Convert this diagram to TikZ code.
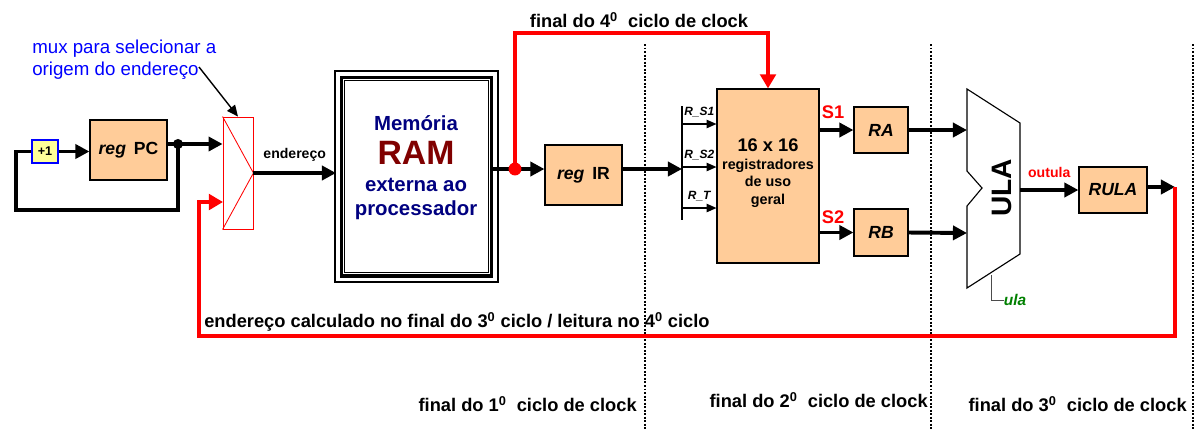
\documentclass[tikz,border=0pt]{standalone}
\usepackage{fontspec}
\setmainfont{Liberation Sans}
\usetikzlibrary{arrows.meta,calc}
\definecolor{regfill}{RGB}{255,204,153}
\definecolor{incfill}{RGB}{255,255,153}
\definecolor{ramblue}{RGB}{0,0,128}
\definecolor{ramred}{RGB}{128,0,0}
\definecolor{ulagreen}{RGB}{0,128,0}

\begin{document}
\begin{tikzpicture}[x=0.025cm, y=-0.025cm,
    regbox/.style={draw, fill=regfill, line width=0.8pt, inner sep=0pt},
    fio/.style={line width=2.8pt, -{Triangle[length=10pt,width=10pt]}},
    fiored/.style={draw=red, line width=2.8pt, -{Triangle[length=10pt,width=11pt]}},
    fino/.style={line width=0.8pt, -{Triangle[length=7pt,width=6pt]}},
    divisa/.style={line width=1.4pt, dash pattern=on 1.4pt off 1.1pt},
    rotulo/.style={font=\fontsize{13}{15}\selectfont\bfseries, inner sep=0pt}]
    % Frame
    \useasboundingbox (0,0) rectangle (1194,430);

    % Clock boundaries
    \foreach \x in {645,931,1193}
        \draw[divisa] (\x,44) -- (\x,430);

    % PC, +1 and mux
    \node[draw=blue, fill=incfill, line width=0.8pt, minimum width=0.65cm, minimum height=0.575cm,
          inner sep=0pt, font=\fontsize{9}{10}\selectfont\bfseries] (inc) at (45,151.5) {+1};
    \node[regbox, minimum width=1.925cm, minimum height=1.5cm,
          font=\fontsize{12.5}{14}\selectfont\bfseries] (pc) at (128.5,150) {\textit{reg}\hspace{0.45em}PC};
    \node[draw=red, line width=0.6pt, minimum width=0.75cm, minimum height=2.8cm, inner sep=0pt] (mux) at (238,173) {};
    \draw[red, line width=0.6pt] (mux.north west) -- (mux.east) -- (mux.south west);

    \coordinate (pcout) at (178,144);
    \draw[fio] (inc.east) -- (inc.east -| pc.west);
    \draw[line width=2.8pt] (pc.east |- pcout) -- (pcout) |- (16,210) |- (inc.west);
    \draw[fio] (pcout) -- (pcout -| mux.west);
    \fill (pcout) circle (3.6pt);

    % Note on the mux
    \node[blue, align=left, anchor=north west, inner sep=0pt, font=\fontsize{13.3}{15.5}\selectfont] (muxnote) at (32,40)
        {mux para selecionar a\\origem do endereço};
    \coordinate (notetail) at (199,67);
    \draw[line width=1pt, -{Triangle[length=8pt,width=7pt]}] (notetail) -- (mux.north);

    % Memory
    \coordinate (ramin) at (336,173);
    \draw[fio] (mux.east) -- node[above=7pt, font=\fontsize{10}{12}\selectfont\bfseries, inner sep=0pt] (endlbl) {endereço} (ramin);
    \node[draw, line width=2.8pt, minimum width=3.75cm, minimum height=4.95cm, inner sep=0pt] (ram) at (416.5,176.5) {};
    \draw[line width=1pt] ($(ram.north west)+(-4.6,-4.6)$) rectangle ($(ram.south east)+(4.6,4.6)$);
    \draw[line width=1pt] ($(ram.north west)+(4.8,4.8)$) rectangle ($(ram.south east)+(-4.8,-4.8)$);
    \node[align=center, inner sep=0pt, font=\fontsize{14.5}{17}\selectfont\bfseries] (ramtxt) at (416,167.5) {%
        \textcolor{ramblue}{Memória}\\[7pt]
        {\fontsize{24}{26}\selectfont\textcolor{ramred}{RAM}}\\[2.8pt]
        \textcolor{ramblue}{externa ao}\\[-0.4pt]
        \textcolor{ramblue}{processador}};

    % IR
    \node[regbox, minimum width=1.925cm, minimum height=1.5cm,
          font=\fontsize{12.5}{14}\selectfont\bfseries] (ir) at (583.5,175) {\textit{reg}\hspace{0.45em}IR};
    \coordinate (memout) at (515,169);
    \draw[fio] (ram.east |- memout) -- (memout -| ir.west);

    % Register file
    \node[regbox, minimum width=2.55cm, minimum height=4.35cm] (reg16) at (768,176) {};
    \node[align=center, inner sep=0pt, font=\fontsize{10.2}{12.5}\selectfont\bfseries] (reg16txt) at (768,173)
        {{\fontsize{13}{15}\selectfont 16 x 16}\\registradores\\de uso\\geral};
    \draw[fiored] (memout) -- (515,33) -| (reg16.north);
    \fill[red] (memout) circle (4.6pt);

    % Bus into the register file
    \coordinate (busin) at (682,169);
    \draw[fio] (ir.east |- busin) -- (busin);
    \draw[line width=1pt] (682,106) -- (682,220);
    \foreach \y/\t [count=\i] in {124/R\_S1, 167/R\_S2, 208/R\_T} {
        \coordinate (b\i) at (682,\y);
        \draw[fino] (b\i) -- node[above=4.5pt, font=\fontsize{8.5}{10}\selectfont\bfseries\itshape, inner sep=0pt] (sel\i) {\t} (b\i -| reg16.west);
    }

    % RA and RB
    \node[regbox, minimum width=1.35cm, minimum height=1.15cm,
          font=\fontsize{12.5}{14}\selectfont\bfseries\itshape] (ra) at (881,130) {RA};
    \node[regbox, minimum width=1.35cm, minimum height=1.175cm,
          font=\fontsize{12.5}{14}\selectfont\bfseries\itshape] (rb) at (881,232.5) {RB};
    \draw[fio] (reg16.east |- ra.west) -- (ra.west);
    \draw[fio] (reg16.east |- rb.west) -- (rb.west);
    \node[rotulo, red] (s1) at (833,112) {S1};
    \node[rotulo, red] (s2) at (833,217) {S2};

    % ULA
    \draw[line width=0.8pt] (967,89) -- (1020,123) -- (1020,254) -- (967,288) -- (967,206) -- (982,188) -- (967,171) -- cycle;
    \node[rotate=90, font=\fontsize{20}{22}\selectfont\bfseries, inner sep=0pt] (ulatxt) at (1002,188) {ULA};
    \coordinate (ula1) at (967,130);
    \coordinate (ula2) at (967,233);
    \coordinate (ulaout) at (1020,190);
    \draw[fio] (ra.east) -- (ula1);
    \draw[fio] (rb.east) -- (ula2);
    \node[ulagreen, font=\fontsize{11}{13}\selectfont\bfseries\itshape, inner sep=0pt] (ulalbl) at (1015,300) {ula};
    \draw[line width=0.5pt, gray!60!black] (991,275) |- (ulalbl.west);

    % RULA
    \node[regbox, minimum width=1.7cm, minimum height=1.15cm,
          font=\fontsize{12.5}{14}\selectfont\bfseries\itshape] (rula) at (1113,190) {RULA};
    \draw[fio] (ulaout) -- node[above=7.5pt, red, font=\fontsize{10}{12}\selectfont\bfseries, inner sep=0pt] (outlbl) {outula} (rula.west);

    % Return path to the mux
    \coordinate (ret) at (1175,187);
    \coordinate (muxin) at (223,202);
    \draw[fio] (rula.east |- ret) -- (ret);
    \draw[fiored] (ret) |- (199,336) |- (muxin);

    % Labels
    \node[rotulo] (ciclo4) at (639,20) {final do 4\textsuperscript{0}\ \ ciclo de clock};
    \node[rotulo, anchor=west] (endcalc) at (204,322)
        {endereço calculado no final do 3\textsuperscript{0} ciclo / leitura no 4\textsuperscript{0} ciclo};
    \node[rotulo, anchor=east] (ciclo1) at (637,404) {final do 1\textsuperscript{0}\ \ ciclo de clock};
    \node[rotulo, anchor=east] (ciclo2) at (928,400) {final do 2\textsuperscript{0}\ \ ciclo de clock};
    \node[rotulo, anchor=east] (ciclo3) at (1187,404) {final do 3\textsuperscript{0}\ \ ciclo de clock};
\end{tikzpicture}
\end{document}
